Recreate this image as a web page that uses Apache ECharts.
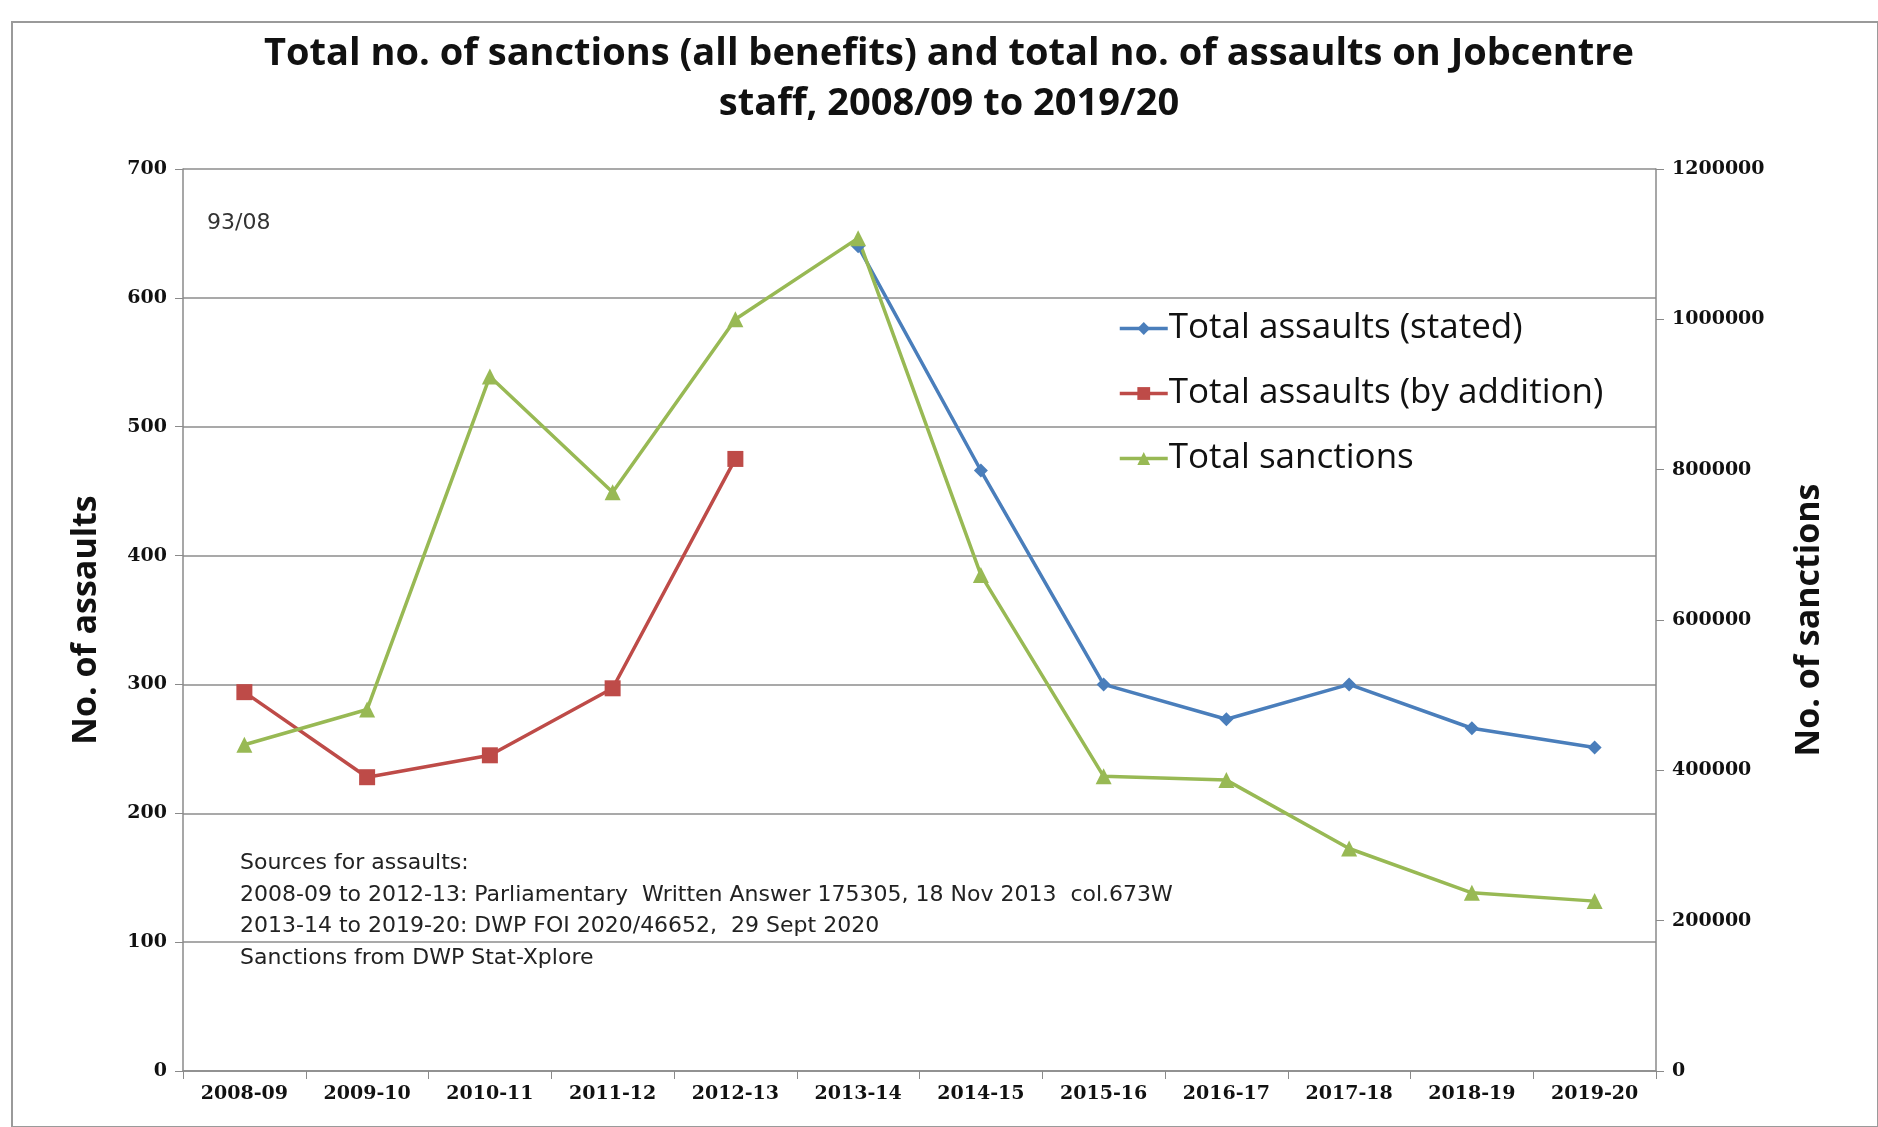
<!DOCTYPE html>
<html><head><meta charset="utf-8">
<script src="https://cdn.jsdelivr.net/npm/echarts@6/dist/echarts.min.js"></script>
<style>html,body{margin:0;padding:0;background:#fff}#c{width:1878px;height:1127px}</style>
</head><body><div id="c"></div>
<script>
const categories = ['2008-09','2009-10','2010-11','2011-12','2012-13','2013-14','2014-15','2015-16','2016-17','2017-18','2018-19','2019-20'];
const assaultsStated = [null,null,null,null,null,640,466,300,273,300,266,251];
const assaultsByAddition = [294,228,245,297,475,null,null,null,null,null,null,null];
const totalSanctions = [434000,481000,924000,770000,1000000,1108000,660000,392000,387000,296000,237000,226000];
const leftTicks = {min:0,max:700,interval:100};
const rightTicks = {min:0,max:1200000,interval:200000};

const tickFont = {fontFamily:'DejaVu Serif',fontWeight:'bold',fontSize:19,color:'#111'};
const chart = echarts.init(document.getElementById('c'),null,{renderer:'canvas'});
chart.setOption({
  backgroundColor:'#fff',
  animation:false,
  title:{
    text:'Total no. of sanctions (all benefits) and total no. of assaults on Jobcentre\nstaff, 2008/09 to 2019/20',
    left:944, top:24, textAlign:'center',
    textStyle:{fontFamily:'Open Sans',fontWeight:'bold',fontSize:38,lineHeight:50,color:'#111'}
  },
  graphic:[
    {type:'rect',shape:{x:12,y:22,width:1866,height:1105},style:{fill:null,stroke:'#9a9a9a',lineWidth:2},silent:true},
    {type:'text',left:207,top:212,style:{text:'93/08',font:'22px "DejaVu Sans"',fill:'#333'}},
    {type:'text',left:240,top:848,style:{text:'Sources for assaults:\n2008-09 to 2012-13: Parliamentary  Written Answer 175305, 18 Nov 2013  col.673W\n2013-14 to 2019-20: DWP FOI 2020/46652,  29 Sept 2020\nSanctions from DWP Stat-Xplore',font:'22px "DejaVu Sans"',lineHeight:31.5,fill:'#222'}}
  ],
  legend:{
    orient:'vertical', left:1113, top:306, itemGap:30, itemWidth:48, itemHeight:16,
    lineStyle:{width:3.5},
    textStyle:{fontFamily:'Open Sans',fontSize:35,color:'#111',padding:[0,0,0,-4]},
    data:['Total assaults (stated)','Total assaults (by addition)','Total sanctions']
  },
  grid:{left:183,right:222,top:169,bottom:56,containLabel:false},
  xAxis:{
    type:'category', data:categories, boundaryGap:true,
    axisLine:{lineStyle:{color:'#8a8a8a',width:1.5}},
    axisTick:{show:true,alignWithLabel:false,length:8,lineStyle:{color:'#8a8a8a'}},
    axisLabel:Object.assign({margin:14},tickFont)
  },
  yAxis:[
    {type:'value',position:'left',min:leftTicks.min,max:leftTicks.max,interval:leftTicks.interval,
     name:'No. of assaults',nameLocation:'middle',nameGap:80,nameRotate:90,
     nameTextStyle:{fontFamily:'Open Sans',fontWeight:'bold',fontSize:34,color:'#111'},
     axisLine:{show:true,lineStyle:{color:'#8a8a8a',width:1.5}},
     axisTick:{show:true,length:8,lineStyle:{color:'#8a8a8a'}},
     splitLine:{show:true,lineStyle:{color:'#8c8c8c',width:1.5}},
     axisLabel:Object.assign({margin:16},tickFont)},
    {type:'value',position:'right',min:rightTicks.min,max:rightTicks.max,interval:rightTicks.interval,
     name:'No. of sanctions',nameLocation:'middle',nameGap:136,nameRotate:90,
     nameTextStyle:{fontFamily:'Open Sans',fontWeight:'bold',fontSize:34,color:'#111'},
     axisLine:{show:true,lineStyle:{color:'#8a8a8a',width:1.5}},
     axisTick:{show:true,length:8,lineStyle:{color:'#8a8a8a'}},
     splitLine:{show:false},
     axisLabel:Object.assign({margin:16,formatter:v=>String(v)},tickFont)}
  ],
  series:[
    {name:'Total assaults (stated)',type:'line',yAxisIndex:0,data:assaultsStated,
     symbol:'diamond',symbolSize:14,showAllSymbol:true,
     lineStyle:{color:'#4a7ebb',width:3.5},itemStyle:{color:'#4a7ebb'}},
    {name:'Total assaults (by addition)',type:'line',yAxisIndex:0,data:assaultsByAddition,
     symbol:'rect',symbolSize:16,showAllSymbol:true,
     lineStyle:{color:'#be4b48',width:3.5},itemStyle:{color:'#be4b48'}},
    {name:'Total sanctions',type:'line',yAxisIndex:1,data:totalSanctions,
     symbol:'triangle',symbolSize:16,showAllSymbol:true,
     lineStyle:{color:'#98b954',width:3.5},itemStyle:{color:'#98b954'}}
  ]
});
</script></body></html>
